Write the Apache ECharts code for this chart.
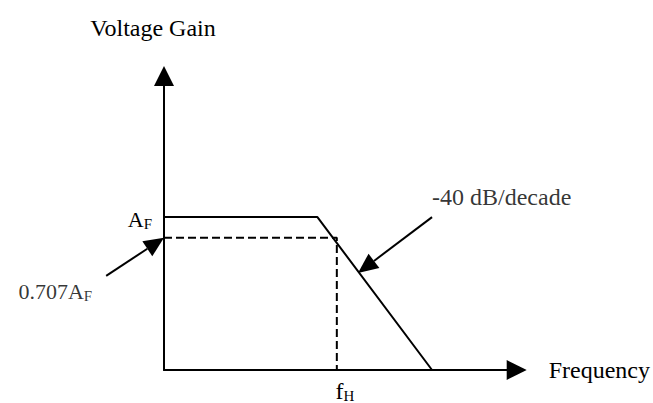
<!DOCTYPE html>
<html><head><meta charset="utf-8">
<script src="https://cdn.jsdelivr.net/npm/echarts@6/dist/echarts.min.js"></script>
<style>html,body{margin:0;padding:0;background:#fff}#chart{width:653px;height:403px}</style>
</head><body><div id="chart"></div>
<script>
// Data in abstract units (frequency axis 0-100, gain axis 0-100)
const responseFreq = [0, 43.5, 76];
const responseGain = [52, 52, 0];
const cutoffFreq = [0, 49, 49];
const cutoffGain = [45, 45, 0];
const gainTickValues = [52];
const gainTickLabels = ['{a|A}{s|F}'];
const freqTickValues = [49];
const freqTickLabels = ['{f|f}{s|H}'];
const slopeArrow = [76, 52, 55, 33];        // tail x, tail y, tip x, tip y
const halfPowerArrow = [-16.4, 32, 0, 45];  // tail x, tail y, tip x, tip y
const slopeText = '-40 dB/decade';
const halfPowerText = '{m|0.707A}{s|F}';

const FONT = 'Liberation Serif, Times New Roman, serif';
const subRich = {
  a: {fontFamily: FONT, fontSize: 22, color: '#000', lineHeight: 24},
  m: {fontFamily: FONT, fontSize: 22, color: '#000', lineHeight: 24},
  f: {fontFamily: FONT, fontSize: 24, color: '#000', lineHeight: 24},
  s: {fontFamily: FONT, fontSize: 15, color: '#000', lineHeight: 15, verticalAlign: 'bottom', padding: [15, 0, 0, 0]}
};

const chart = echarts.init(document.getElementById('chart'), null, {renderer: 'svg'});

function zip(xs, ys) { return xs.map((x, i) => [x, ys[i]]); }

function arrowItem(params, api) {
  const p1 = api.coord([api.value(0), api.value(1)]);
  const p2 = api.coord([api.value(2), api.value(3)]);
  const dx = p2[0] - p1[0], dy = p2[1] - p1[1];
  const len = Math.hypot(dx, dy), ux = dx / len, uy = dy / len;
  const hl = 20, hw = 9;
  const b = [p2[0] - ux * hl, p2[1] - uy * hl];
  return {
    type: 'group',
    children: [
      {type: 'line', shape: {x1: p1[0], y1: p1[1], x2: b[0], y2: b[1]}, style: {stroke: '#000', lineWidth: 2}},
      {type: 'polygon', shape: {points: [p2, [b[0] - uy * hw, b[1] + ux * hw], [b[0] + uy * hw, b[1] - ux * hw]]}, style: {fill: '#000'}}
    ]
  };
}

const option = {
  animation: false,
  backgroundColor: '#fff',
  grid: {left: 164, right: 135, top: 76, bottom: 31, containLabel: false},
  xAxis: {
    type: 'value', min: 0, max: 100,
    name: 'Frequency', nameLocation: 'end', nameGap: 32,
    nameTextStyle: {fontFamily: FONT, fontSize: 24, color: '#000'},
    axisLine: {show: true, lineStyle: {color: '#000', width: 2}, symbol: ['none', 'triangle'], symbolSize: [20, 20]},
    axisTick: {show: false},
    splitLine: {show: false},
    axisLabel: {
      show: true, customValues: freqTickValues, margin: 9,
      padding: [0, 0, 0, 16],
      formatter: v => freqTickLabels[freqTickValues.indexOf(v)] || '',
      rich: subRich
    }
  },
  yAxis: {
    type: 'value', min: 0, max: 100,
    name: 'Voltage Gain', nameLocation: 'end', nameGap: 36,
    nameTextStyle: {fontFamily: FONT, fontSize: 24, color: '#000', padding: [0, 22, 0, 0]},
    axisLine: {show: true, lineStyle: {color: '#000', width: 2}, symbol: ['none', 'triangle'], symbolSize: [20, 20]},
    axisTick: {show: false},
    splitLine: {show: false},
    axisLabel: {
      show: true, customValues: gainTickValues, margin: 12,
      padding: [4, 0, 0, 0],
      formatter: v => gainTickLabels[gainTickValues.indexOf(v)] || '',
      rich: subRich
    }
  },
  series: [
    {
      name: 'response', type: 'line', data: zip(responseFreq, responseGain),
      symbol: 'none', lineStyle: {color: '#000', width: 2}, clip: false
    },
    {
      name: 'cutoff', type: 'line', data: zip(cutoffFreq, cutoffGain),
      symbol: 'none', lineStyle: {color: '#000', width: 2, type: [8, 4]}, clip: false
    },
    {
      name: 'arrows', type: 'custom', coordinateSystem: 'cartesian2d', clip: false,
      data: [slopeArrow, halfPowerArrow], renderItem: arrowItem, silent: true
    },
    {
      name: 'notes', type: 'scatter', symbolSize: 0, clip: false, silent: true,
      data: [
        {value: [slopeArrow[0], slopeArrow[1]], label: {show: true, position: 'top', distance: 8, align: 'left', formatter: slopeText, fontFamily: FONT, fontSize: 24, color: '#000'}},
        {value: [halfPowerArrow[0], halfPowerArrow[1]], label: {show: true, position: 'bottom', distance: 4, align: 'right', offset: [-14, 0], formatter: halfPowerText, rich: subRich}}
      ]
    }
  ]
};
chart.setOption(option);
</script></body></html>
